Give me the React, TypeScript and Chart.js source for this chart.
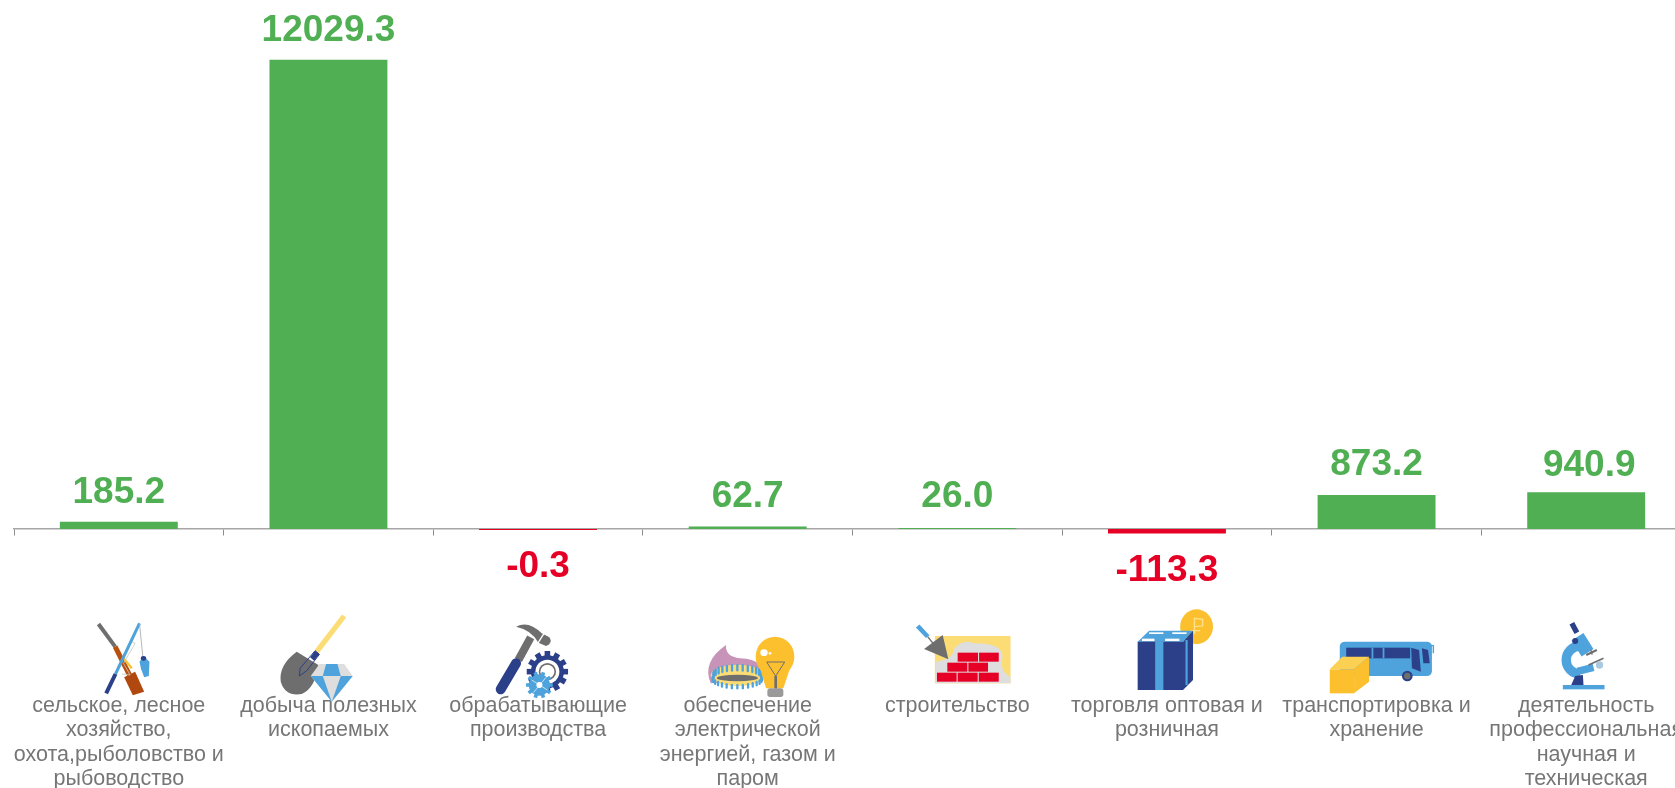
import React, { useEffect, useRef } from "react";
import { Chart, registerables } from "chart.js";

Chart.register(...registerables);

const categories: string[][] = [
  ["сельское, лесное", "хозяйство,", "охота,рыболовство и", "рыбоводство"],
  ["добыча полезных", "ископаемых"],
  ["обрабатывающие", "производства"],
  ["обеспечение", "электрической", "энергией, газом и", "паром"],
  ["строительство"],
  ["торговля оптовая и", "розничная"],
  ["транспортировка и", "хранение"],
  ["деятельность", "профессиональная", "научная и", "техническая"],
];
const values: number[] = [185.2, 12029.3, -0.3, 62.7, 26.0, -113.3, 873.2, 940.9];

const GREEN = "#4FAF52";
const RED = "#E60026";
const BLUE = "#4FA3DC";
const NAVY = "#2B4089";
const GOLD = "#FCC02E";
const GRAY = "#6E6E6E";
const LIGHT = "#DEDEDE";

type C = CanvasRenderingContext2D;

function poly(c: C, color: string, pts: number[]) {
  c.fillStyle = color;
  c.beginPath();
  for (let i = 0; i < pts.length; i += 2) {
    if (i === 0) c.moveTo(pts[i], pts[i + 1]);
    else c.lineTo(pts[i], pts[i + 1]);
  }
  c.closePath();
  c.fill();
}
function stroke(c: C, color: string, w: number, pts: number[], cap: CanvasLineCap = "butt") {
  c.strokeStyle = color;
  c.lineWidth = w;
  c.lineCap = cap;
  c.beginPath();
  for (let i = 0; i < pts.length; i += 2) {
    if (i === 0) c.moveTo(pts[i], pts[i + 1]);
    else c.lineTo(pts[i], pts[i + 1]);
  }
  c.stroke();
}
function ell(c: C, color: string, x: number, y: number, rx: number, ry: number) {
  c.fillStyle = color;
  c.beginPath();
  c.ellipse(x, y, rx, ry, 0, 0, Math.PI * 2);
  c.fill();
}
function rect(c: C, color: string, x0: number, y0: number, x1: number, y1: number) {
  c.fillStyle = color;
  c.fillRect(x0, y0, x1 - x0, y1 - y0);
}
function gear(c: C, color: string, x: number, y: number, r: number, hole: number, teeth = 12) {
  for (let i = 0; i < teeth; i++) {
    const a = (i / teeth) * Math.PI * 2;
    stroke(c, color, r * 0.27, [x, y, x + Math.cos(a) * r, y + Math.sin(a) * r]);
  }
  ell(c, color, x, y, r * 0.8, r * 0.8);
  ell(c, "#fff", x, y, hole, hole);
}

// each icon is sketched in the pixel grid of a magnified crop: sx, sy = magnification, y0 = crop top
const icons: { cx: number; sx: number; sy: number; y0: number; draw: (c: C) => void }[] = [
  {
    cx: 236, sx: 3, sy: 3, y0: 600,
    draw: (c) => {
      stroke(c, GRAY, 12, [175, 72, 225, 140]);
      stroke(c, "#B9500F", 15, [225, 140, 268, 225]);
      stroke(c, GOLD, 7, [250, 175, 275, 205]);
      poly(c, "#B0480F", [252, 232, 285, 215, 312, 275, 278, 286]);
      stroke(c, "#C9C9C9", 2.5, [298, 70, 275, 125, 285, 130, 250, 190, 270, 225, 245, 222]);
      stroke(c, BLUE, 9, [298, 70, 226, 222]);
      stroke(c, NAVY, 12, [226, 222, 198, 280]);
      stroke(c, "#A8A8A8", 2.5, [298, 70, 308, 170]);
      poly(c, BLUE, [298, 185, 310, 168, 328, 185, 326, 228, 312, 232, 303, 208]);
      ell(c, NAVY, 310, 175, 8, 7);
    },
  },
  {
    cx: 865, sx: 3, sy: 3, y0: 600,
    draw: (c) => {
      stroke(c, "#FCDC74", 16, [912, 48, 830, 155]);
      c.fillStyle = GRAY;
      c.beginPath();
      c.moveTo(770, 155);
      c.lineTo(835, 195);
      c.quadraticCurveTo(825, 265, 785, 282);
      c.quadraticCurveTo(735, 290, 722, 245);
      c.quadraticCurveTo(715, 195, 770, 155);
      c.fill();
      stroke(c, NAVY, 3, [825, 152, 838, 163, 800, 212, 778, 228, 780, 205, 825, 152]);
      poly(c, NAVY, [825, 152, 838, 163, 822, 182, 810, 172]);
      poly(c, LIGHT, [838, 192, 912, 192, 938, 228, 875, 305, 812, 228]);
      poly(c, BLUE, [858, 192, 892, 192, 902, 228, 848, 228]);
      poly(c, BLUE, [812, 228, 848, 228, 875, 305]);
      poly(c, BLUE, [902, 228, 938, 228, 875, 305]);
    },
  },
  {
    cx: 204, sx: 3, sy: 3, y0: 600,
    draw: (c) => {
      stroke(c, GRAY, 24, [182, 112, 145, 180]);
      c.fillStyle = GRAY;
      c.beginPath();
      c.moveTo(138, 80);
      c.quadraticCurveTo(175, 60, 215, 100);
      c.lineTo(238, 112);
      c.quadraticCurveTo(250, 130, 228, 138);
      c.lineTo(205, 128);
      c.quadraticCurveTo(185, 90, 138, 80);
      c.fill();
      stroke(c, "#fff", 4, [222, 100, 203, 130]);
      stroke(c, NAVY, 30, [138, 190, 92, 268], "round");
      gear(c, NAVY, 232, 215, 62, 36);
      ell(c, GRAY, 232, 215, 26, 26);
      ell(c, "#fff", 232, 215, 21, 21);
      gear(c, BLUE, 208, 255, 40, 9, 10);
      stroke(c, "#fff", 2, [185, 240, 232, 270]);
      stroke(c, "#fff", 2, [190, 278, 228, 232]);
    },
  },
  {
    cx: 833, sx: 3, sy: 3, y0: 600,
    draw: (c) => {
      c.fillStyle = "#C893B8";
      c.beginPath();
      c.moveTo(722, 250);
      c.quadraticCurveTo(695, 185, 768, 135);
      c.quadraticCurveTo(765, 170, 810, 175);
      c.quadraticCurveTo(850, 175, 870, 195);
      c.lineTo(880, 240);
      c.closePath();
      c.fill();
      ell(c, "#FCDC74", 802, 226, 80, 32);
      for (let i = 0; i < 15; i++) {
        const a = Math.PI + (i / 14) * Math.PI;
        const x = 802 + Math.cos(a) * 72;
        const y = 228 + Math.sin(a) * 24;
        stroke(c, BLUE, 7, [x, y - 9, x, y + 7], "round");
      }
      for (let i = 0; i < 15; i++) {
        const a = (i / 14) * Math.PI;
        const x = 802 + Math.cos(a) * 74;
        const y = 236 + Math.sin(a) * 24;
        stroke(c, BLUE, 7, [x, y - 5, x, y + 5], "round");
      }
      ell(c, GRAY, 802, 234, 62, 10);
      ell(c, GOLD, 915, 170, 58, 60);
      poly(c, GOLD, [870, 205, 960, 205, 940, 265, 888, 265]);
      c.fillStyle = "#9A9A9A";
      c.beginPath();
      c.roundRect(892, 265, 48, 26, 8);
      c.fill();
      stroke(c, GRAY, 3, [890, 186, 944, 186, 917, 228, 890, 186]);
      stroke(c, GRAY, 8, [917, 228, 917, 265]);
      ell(c, "#fff", 882, 158, 11, 10);
      ell(c, "#fff", 900, 160, 4, 4);
    },
  },
  {
    cx: 1113, sx: 2.8, sy: 3, y0: 480,
    draw: (c) => {
      rect(c, "#FCDC74", 1050, 468, 1262, 610);
      c.fillStyle = LIGHT;
      c.beginPath();
      c.moveTo(1052, 610);
      c.lineTo(1052, 545);
      c.quadraticCurveTo(1100, 540, 1105, 505);
      c.quadraticCurveTo(1130, 475, 1160, 490);
      c.quadraticCurveTo(1240, 490, 1240, 530);
      c.quadraticCurveTo(1230, 575, 1262, 590);
      c.lineTo(1262, 610);
      c.closePath();
      c.fill();
      const rows = [
        [1114, 518, 1171],
        [1174, 518, 1229],
        [1085, 548, 1141],
        [1144, 548, 1199],
        [1056, 578, 1111],
        [1114, 578, 1170],
        [1173, 578, 1229],
      ];
      rows.forEach((r) => rect(c, RED, r[0], r[1], r[2], r[1] + 27));
      stroke(c, BLUE, 13, [1002, 438, 1030, 470]);
      stroke(c, GRAY, 4, [1030, 470, 1045, 490]);
      poly(c, GRAY, [1020, 507, 1072, 465, 1088, 538]);
    },
  },
  {
    cx: 145, sx: 2.8, sy: 3, y0: 480,
    draw: (c) => {
      ell(c, GOLD, 228, 440, 46, 52);
      stroke(c, "#FDE08A", 4, [222, 462, 222, 415, 245, 418, 245, 438, 222, 440]);
      stroke(c, "#FDE08A", 4, [212, 452, 238, 452]);
      poly(c, BLUE, [63, 485, 95, 452, 218, 452, 190, 485]);
      rect(c, NAVY, 63, 485, 190, 630);
      poly(c, NAVY, [190, 485, 218, 452, 218, 600, 190, 630]);
      rect(c, BLUE, 112, 485, 135, 630);
      stroke(c, BLUE, 6, [200, 480, 200, 615]);
      rect(c, "#fff", 75, 476, 110, 483);
      rect(c, "#fff", 140, 476, 180, 483);
      rect(c, "#fff", 95, 457, 135, 462);
      rect(c, "#fff", 160, 457, 200, 462);
    },
  },
  {
    cx: 731, sx: 2.8, sy: 3, y0: 480,
    draw: (c) => {
      c.fillStyle = BLUE;
      c.beginPath();
      c.roundRect(628, 485, 258, 103, 14);
      c.fill();
      rect(c, NAVY, 646, 503, 825, 535);
      rect(c, BLUE, 717, 503, 722, 535);
      rect(c, BLUE, 748, 503, 753, 535);
      poly(c, NAVY, [828, 503, 850, 510, 855, 575, 830, 565]);
      poly(c, NAVY, [858, 505, 875, 510, 880, 550, 862, 550]);
      stroke(c, BLUE, 4, [860, 495, 890, 497, 890, 520]);
      ell(c, NAVY, 817, 588, 15, 16);
      ell(c, GRAY, 817, 588, 9, 10);
      rect(c, GOLD, 600, 568, 668, 640);
      poly(c, "#FCD053", [600, 568, 635, 530, 710, 530, 668, 568]);
      poly(c, GOLD, [668, 568, 710, 530, 710, 605, 668, 640]);
    },
  },
  {
    cx: 258, sx: 3, sy: 3, y0: 610,
    draw: (c) => {
      stroke(c, NAVY, 16, [215, 40, 230, 68]);
      stroke(c, BLUE, 42, [232, 80, 262, 128]);
      c.strokeStyle = BLUE;
      c.lineWidth = 28;
      c.lineCap = "butt";
      c.beginPath();
      c.arc(240, 150, 42, Math.PI * 0.5, Math.PI * 1.5);
      c.stroke();
      stroke(c, BLUE, 22, [232, 184, 280, 172]);
      poly(c, NAVY, [213, 225, 225, 198, 248, 195, 250, 225]);
      rect(c, BLUE, 188, 225, 313, 238);
      ell(c, NAVY, 225, 93, 9, 9);
      stroke(c, GRAY, 6, [258, 135, 290, 120]);
      stroke(c, GRAY, 4, [272, 120, 276, 134]);
      stroke(c, GRAY, 5, [265, 165, 310, 145]);
      ell(c, "#A9C9E3", 298, 165, 11, 11);
    },
  },
];

const extras = {
  id: "extras",
  afterDraw(chart: any) {
    const c: C = chart.ctx;
    const xs = chart.scales.x;
    const ys = chart.scales.y;
    icons.forEach((icon, i) => {
      c.save();
      c.translate(xs.getPixelForValue(i), icon.y0);
      c.scale(1 / icon.sx, 1 / icon.sy);
      c.translate(-icon.cx, 0);
      icon.draw(c);
      c.restore();
    });
    c.save();
    c.font = 'bold 37px "Liberation Sans", Arial, sans-serif';
    c.textAlign = "center";
    c.textBaseline = "alphabetic";
    // the reference's value labels are hand-placed, a few sit slightly off their usual spot
    const nudgeY = [0, 0, 0, -1, -2, 0, -1, 3];
    const nudgeX = [0, 0, 0, 0, 0, 0, 0, 3];
    values.forEach((v, i) => {
      c.fillStyle = v < 0 ? RED : GREEN;
      const x = xs.getPixelForValue(i) + nudgeX[i];
      const y = ys.getPixelForValue(v);
      c.fillText(v.toFixed(1), x, (v < 0 ? y + 48 : y - 19) + nudgeY[i]);
    });
    c.restore();
  },
};

export default function App() {
  const ref = useRef<HTMLCanvasElement>(null);
  useEffect(() => {
    const chart = new Chart(ref.current!, {
      type: "bar",
      data: {
        labels: categories as any,
        datasets: [
          {
            data: values,
            backgroundColor: values.map((v) => (v < 0 ? RED : GREEN)),
            barPercentage: 0.5625,
            categoryPercentage: 1,
            minBarLength: 1,
          },
        ],
      },
      options: {
        animation: false,
        responsive: false,
        layout: { padding: { left: 14, right: 9, top: 22, bottom: 332 } },
        plugins: { legend: { display: false }, tooltip: { enabled: false } },
        scales: {
          y: { display: false, min: -1000, max: 13000 },
          x: {
            position: { y: 0 } as any,
            afterFit(scale: any) {
              scale.paddingLeft = 0;
              scale.paddingRight = 0;
            },
            border: { color: "#A6A6A6", width: 1.5 },
            grid: { drawOnChartArea: false, color: "#8C8C8C", tickLength: 6, tickWidth: 1, offset: true },
            ticks: {
              autoSkip: false,
              maxRotation: 0,
              minRotation: 0,
              padding: 158.5,
              color: "#767676",
              font: { family: '"Liberation Sans", Arial, sans-serif', size: 21.5, lineHeight: 24.5 / 21.5 },
            },
          },
        },
      },
      plugins: [extras],
    });
    return () => chart.destroy();
  }, []);
  return (
    <div style={{ position: "fixed", left: 0, top: 0, width: 1675, height: 788, overflow: "hidden", background: "#fff" }}>
      <canvas ref={ref} width={1700} height={900} style={{ display: "block" }} />
    </div>
  );
}
